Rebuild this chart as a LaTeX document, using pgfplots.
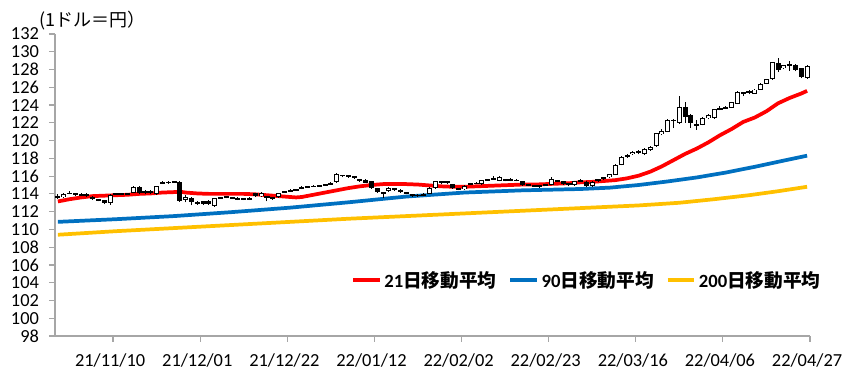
\documentclass[border=0pt]{standalone}
\usepackage{pgfplots}
\pgfplotsset{compat=1.18}
\usepackage{pgfplotstable}
\usepackage{fontspec}
\setmainfont{Carlito}
\newfontfamily\cjk{Noto Sans CJK JP}
\definecolor{maA}{HTML}{FF0000}
\definecolor{maB}{HTML}{0070C0}
\definecolor{maC}{HTML}{FFC000}
\definecolor{axgray}{HTML}{A6A6A6}

\pgfplotstableread{
k o h l c
0 113.55 113.95 113.45 113.80
1 113.60 114.05 113.50 113.95
2 114.00 114.35 113.95 114.10
3 114.00 114.10 113.75 113.95
4 113.95 114.05 113.75 113.90
5 113.95 114.05 113.60 113.75
6 113.70 113.80 113.30 113.45
7 113.40 113.45 113.15 113.30
8 113.30 113.35 112.85 112.95
9 112.95 113.95 112.75 113.85
10 113.95 114.10 113.90 114.05
11 114.05 114.15 113.90 114.00
12 113.95 114.15 113.90 114.05
13 114.10 114.90 114.05 114.80
14 114.80 114.85 113.95 114.05
15 114.05 114.40 113.95 114.30
16 114.35 114.45 113.95 114.05
17 113.95 114.90 113.85 114.85
18 115.15 115.40 115.10 115.30
19 115.25 115.45 115.15 115.35
20 115.35 115.40 115.30 115.35
21 115.30 115.45 113.10 113.25
22 113.30 113.85 113.05 113.70
23 113.55 113.60 112.70 113.10
24 112.85 113.20 112.75 113.10
25 112.90 113.25 112.80 113.15
26 113.25 113.35 112.75 112.85
27 112.65 113.55 112.55 113.50
28 113.50 113.70 113.45 113.60
29 113.60 113.80 113.50 113.65
30 113.60 113.70 113.40 113.55
31 113.50 113.60 113.30 113.45
32 113.45 113.55 113.30 113.40
33 113.45 113.60 113.30 113.50
34 114.05 114.15 113.70 113.80
35 113.75 114.20 113.70 114.10
36 113.70 113.80 113.15 113.55
37 113.55 113.60 113.35 113.50
38 113.60 114.15 113.55 114.10
39 114.15 114.35 114.10 114.25
40 114.30 114.50 114.25 114.45
41 114.45 114.50 114.35 114.40
42 114.55 114.85 114.50 114.80
43 114.80 114.90 114.75 114.85
44 114.85 114.95 114.80 114.85
45 114.85 115.00 114.80 114.95
46 114.95 115.10 114.90 115.05
47 115.05 115.30 115.00 115.25
48 115.30 116.30 115.25 116.20
49 116.10 116.15 115.85 116.05
50 116.05 116.10 115.80 116.00
51 115.95 116.05 115.70 115.80
52 115.45 115.70 115.35 115.65
53 115.60 115.65 115.20 115.25
54 115.40 115.45 114.60 114.65
55 114.65 114.70 114.10 114.20
56 113.95 114.25 113.50 114.20
57 114.30 114.75 114.20 114.70
58 114.55 114.65 114.30 114.50
59 114.45 114.55 114.15 114.25
60 114.15 114.25 113.95 114.10
61 113.75 114.00 113.70 113.95
62 113.85 113.95 113.70 113.80
63 113.85 114.05 113.75 113.90
64 114.00 114.75 113.95 114.70
65 114.70 115.50 114.60 115.40
66 115.35 115.50 115.15 115.35
67 115.40 115.45 115.15 115.30
68 115.10 115.15 114.60 114.65
69 114.60 114.70 114.40 114.55
70 114.50 114.95 114.45 114.90
71 115.05 115.25 115.00 115.20
72 115.15 115.30 115.10 115.20
73 115.10 115.60 115.05 115.55
74 115.55 115.65 115.50 115.60
75 115.65 116.05 115.60 115.75
76 115.45 116.05 115.40 115.95
77 115.60 115.70 115.40 115.55
78 115.55 115.75 115.45 115.60
79 115.55 115.70 115.40 115.50
80 115.45 115.50 114.90 114.95
81 115.00 115.10 114.85 115.00
82 114.95 115.05 114.80 114.90
83 114.95 115.00 114.70 114.85
84 115.00 115.15 114.95 115.05
85 115.05 115.85 114.95 115.65
86 115.50 115.60 115.40 115.50
87 115.40 115.45 115.05 115.15
88 115.20 115.25 114.85 114.95
89 115.00 115.50 114.90 115.45
90 115.45 115.65 115.35 115.45
91 115.35 115.40 114.80 114.85
92 114.85 115.40 114.75 115.35
93 115.40 115.70 115.35 115.65
94 115.65 115.90 115.60 115.85
95 115.85 116.25 115.80 116.20
96 116.15 117.35 116.10 117.25
97 117.30 118.30 117.20 118.20
98 118.20 118.45 118.05 118.35
99 118.45 118.85 118.40 118.75
100 118.80 118.90 118.45 118.65
101 118.45 119.20 118.35 119.10
102 118.95 119.40 118.85 119.30
103 119.35 120.90 119.30 120.80
104 120.70 121.30 120.60 121.05
105 121.00 122.45 120.95 122.35
106 122.20 122.45 121.40 122.35
107 122.00 125.00 121.90 123.80
108 123.80 124.30 122.00 122.70
109 122.90 123.00 121.40 122.00
110 121.85 122.30 121.20 121.75
111 121.80 122.60 121.70 122.50
112 122.50 123.00 122.40 122.90
113 122.55 123.60 122.45 123.50
114 123.55 123.85 123.40 123.65
115 123.70 123.90 123.55 123.75
116 123.70 124.35 123.65 124.30
117 124.15 125.60 124.10 125.50
118 125.35 125.50 125.00 125.40
119 125.40 125.70 125.20 125.50
120 125.30 125.80 125.25 125.75
121 125.75 126.50 125.70 126.40
122 126.40 126.95 126.35 126.90
123 126.90 128.90 126.85 128.80
124 128.75 129.30 127.70 127.90
125 128.15 128.55 128.05 128.50
126 128.50 129.00 127.85 128.60
127 128.50 128.60 127.80 128.00
128 128.15 128.20 127.00 127.15
129 127.10 128.50 126.95 128.40
}\ohlc

\pgfplotstableread{
k v
0 113.15
2 113.40
4 113.60
6 113.75
8 113.80
10 113.85
12 113.90
14 114.00
16 114.05
18 114.15
20 114.20
21 114.25
22 114.15
24 114.05
26 114.00
28 114.00
30 114.00
32 114.00
34 113.95
36 113.85
38 113.75
40 113.65
41 113.60
42 113.65
44 113.90
46 114.15
48 114.40
50 114.65
52 114.85
54 115.00
56 115.10
58 115.10
60 115.10
62 115.05
64 114.95
66 114.85
68 114.80
70 114.80
72 114.85
74 114.90
76 114.95
78 115.00
80 115.05
82 115.05
84 115.10
86 115.15
88 115.20
90 115.30
92 115.35
94 115.45
96 115.55
98 115.75
100 116.05
102 116.50
104 117.10
106 117.80
108 118.50
110 119.10
112 119.80
114 120.60
116 121.30
118 122.10
120 122.60
122 123.30
124 124.20
126 124.80
128 125.30
129 125.60
}\maAtab

\pgfplotstableread{
k v
0 110.85
10 111.15
20 111.50
30 111.95
40 112.45
50 113.05
60 113.70
70 114.15
80 114.40
90 114.55
95 114.70
100 115.00
105 115.40
110 115.85
115 116.40
120 117.05
125 117.75
129 118.30
}\maBtab

\pgfplotstableread{
k v
0 109.40
10 109.80
20 110.15
30 110.50
40 110.85
50 111.20
60 111.50
70 111.80
80 112.10
90 112.40
100 112.70
107 113.00
113 113.40
119 113.85
124 114.30
129 114.80
}\maCtab

\begin{document}
\begin{tikzpicture}
\begin{axis}[
  scale only axis,
  width=566.25pt, height=226.5pt,
  xmin=-0.5, xmax=129.5, ymin=98, ymax=132,
  axis lines=left,
  axis line style={-, draw=axgray, line width=0.9pt},
  ytick={98,100,...,132},
  xtick={9.5,24.5,...,129.5},
  xticklabels={21/11/10,21/12/01,21/12/22,22/01/12,22/02/02,22/02/23,22/03/16,22/04/06,22/04/27},
  tick align=outside,
  major tick length=4.5pt,
  tick style={draw=axgray, line width=0.9pt},
  ticklabel style={font=\fontsize{13.8}{16}\selectfont, text=black},
  xticklabel style={xshift=-2.2pt, yshift=-5pt},
  yticklabel style={xshift=-4pt},
  /pgf/number format/assume math mode=true,
  clip=false,
  legend style={draw=none, fill=none, at={(0.705,0.185)}, anchor=center,
    legend columns=-1, font=\fontsize{14}{16}\selectfont\bfseries,
    /tikz/every even column/.append style={column sep=7pt},
    inner sep=0pt},
  legend image code/.code={\draw[#1, line width=2.8pt] (0pt,0pt) -- (20pt,0pt);},
]
\addplot[maA, line width=2.8pt] table[x=k, y=v] {\maAtab};
\addlegendentry{21{\cjk 日移動平均}}
\addplot[maB, line width=2.8pt] table[x=k, y=v] {\maBtab};
\addlegendentry{90{\cjk 日移動平均}}
\addplot[maC, line width=2.8pt] table[x=k, y=v] {\maCtab};
\addlegendentry{200{\cjk 日移動平均}}

% wicks
\addplot[forget plot, draw=none, mark=none,
  error bars/.cd, y dir=plus, y explicit, error mark=none,
  error bar style={draw=black, line width=0.75pt}]
  table[x=k, y=l, y error expr=\thisrow{h}-\thisrow{l}] {\ohlc};
% bodies (black)
\addplot[forget plot, draw=none, mark=none,
  error bars/.cd, y dir=both, y explicit, error mark=none,
  error bar style={draw=black, line width=3.8pt}]
  table[x=k, y expr=0.5*(\thisrow{o}+\thisrow{c}),
        y error expr={max(0.5*abs(\thisrow{c}-\thisrow{o}),0.09)}] {\ohlc};
% hollow interior for rising candles
\addplot[forget plot, draw=none, mark=none,
  error bars/.cd, y dir=both, y explicit, error mark=none,
  error bar style={draw=white, line width=2.3pt}]
  table[x=k, y expr={(\thisrow{c}-\thisrow{o}>0.28) ? 0.5*(\thisrow{o}+\thisrow{c}) : nan},
        y error expr={abs(0.5*(\thisrow{c}-\thisrow{o}))-0.11}] {\ohlc};

\node[anchor=west, font=\fontsize{13.5}{16}\selectfont, inner sep=0pt] at (rel axis cs:-0.0212,1.045) {\cjk (1ドル＝円）};
\end{axis}
\pgfresetboundingbox
\path[use as bounding box] (-41.25pt,-34.5pt) rectangle (596.25pt,252pt);
\end{tikzpicture}
\end{document}
